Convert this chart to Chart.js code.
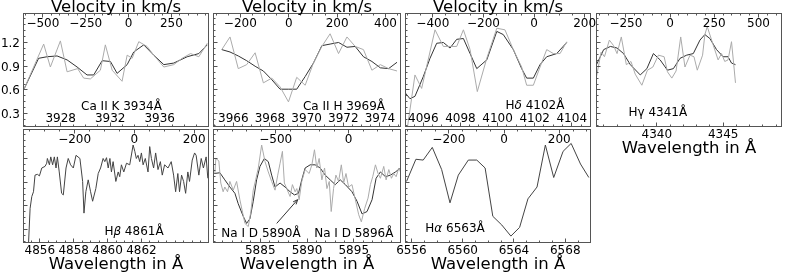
<!DOCTYPE html>
<html>
<head>
<meta charset="utf-8">
<script src="https://cdn.jsdelivr.net/npm/chart.js@4.4.1/dist/chart.umd.min.js"></script>
<style>
  html, body { margin: 0; padding: 0; background: #fff; }
  #wrap { position: relative; width: 789px; height: 276px; overflow: hidden; }
  #wrap canvas { position: absolute; left: 0; top: 0; }
</style>
</head>
<body>
<div id="wrap"></div>
<script>
// ---- spectra (wavelength in Å, normalised flux) ----
const caKRawWave = [3925.01,3926.63,3927.17,3927.98,3928.52,3929.37,3929.86,3930.40,3931.21,3931.61,3932.16,3932.96,3933.37,3933.77,3934.31,3934.98,3935.52,3936.33,3937.13,3937.81,3938.49,3939.16,3939.84];
const caKRawFlux = [0.60,1.18,0.89,1.22,0.83,0.87,0.75,0.74,0.85,1.17,0.85,0.71,1.04,1.00,1.21,1.15,1.04,0.89,0.92,1.00,1.06,1.02,1.19];
const caKSmWave = [3925.01,3926.22,3926.90,3927.71,3928.52,3929.33,3930.13,3930.67,3931.35,3932.02,3932.56,3933.37,3933.90,3934.71,3935.52,3936.33,3937.13,3938.22,3939.16,3939.84];
const caKSmFlux = [0.60,1.00,1.02,1.03,0.98,0.89,0.79,0.79,0.97,0.96,0.81,0.92,1.08,1.17,1.04,0.92,0.94,1.02,1.06,1.17];

const caHWave = [3965.37,3965.82,3966.27,3966.73,3967.19,3967.64,3968.10,3968.55,3969.01,3969.46,3969.92,3970.37,3970.83,3971.28,3971.74,3972.20,3972.65,3973.10,3973.56,3974.02,3974.47,3974.93];
const caHRawFlux = [1.11,1.27,0.87,0.92,1.07,0.69,0.75,0.64,0.45,0.76,0.66,0.94,1.15,1.31,1.06,1.27,1.15,1.11,0.85,0.92,0.87,0.84];
const caHSmFlux = [1.11,1.08,1.03,0.97,0.90,0.84,0.73,0.61,0.61,0.61,0.77,0.94,1.16,1.18,1.20,1.14,1.15,1.02,0.96,0.88,0.87,0.95];

const hdRawWave = [4095.14,4095.55,4095.91,4096.63,4097.08,4097.44,4097.80,4098.16,4098.52,4098.91,4099.42,4099.96,4100.40,4100.85,4101.30,4101.57,4101.93,4102.29,4102.65,4103.01,4103.37,4103.73];
const hdRawFlux = [0.12,0.79,0.62,1.36,1.15,1.15,1.15,1.36,1.11,0.58,1.00,1.38,1.36,1.11,0.89,0.66,0.66,0.89,1.11,1.06,1.06,1.21];
const hdSmWave = [4095.04,4095.28,4095.55,4096.00,4096.36,4096.72,4097.08,4097.44,4097.80,4098.16,4098.52,4098.88,4099.42,4099.96,4100.31,4100.85,4101.30,4101.57,4101.93,4102.29,4102.65,4103.19,4103.73];
const hdSmFlux = [0.56,0.49,0.52,0.77,1.00,1.19,1.20,1.13,1.24,1.25,1.06,0.87,0.98,1.34,1.30,1.11,0.87,0.75,0.75,0.92,1.02,1.06,1.20];

const hgRawWave = [4335.45,4335.80,4336.05,4336.42,4336.74,4337.00,4337.32,4337.70,4338.05,4338.37,4338.87,4339.29,4339.70,4340.12,4340.55,4340.80,4341.13,4341.45,4341.80,4342.12,4342.50,4342.80,4343.05,4343.45,4343.62,4343.80,4344.13,4344.62,4344.88,4345.12,4345.37,4345.63,4345.80,4345.93];
const hgRawFlux = [0.77,1.08,1.02,1.23,1.16,1.06,1.27,0.92,0.96,0.80,0.66,0.85,0.89,1.04,1.02,0.83,0.75,0.84,1.27,0.89,1.04,1.02,0.85,1.04,1.30,1.40,1.23,0.98,1.06,0.96,0.98,1.21,0.92,0.69];
const hgSmWave = [4335.45,4335.99,4336.50,4337.00,4337.49,4338.00,4338.75,4339.25,4339.74,4340.25,4340.80,4341.25,4341.75,4342.25,4342.75,4343.25,4343.62,4344.00,4344.50,4345.00,4345.37,4345.63,4345.93];
const hgSmFlux = [0.92,1.11,1.15,1.13,1.06,0.92,0.79,0.87,1.06,0.98,0.85,0.87,1.00,1.04,1.06,1.23,1.30,1.25,1.11,1.02,1.02,0.94,0.92];

const hbWave = [4855.33,4855.43,4855.53,4855.63,4855.72,4855.86,4855.98,4856.12,4856.31,4856.41,
  4856.45,4856.57,4856.65,4856.76,4856.86,4856.96,4857.04,4857.15,4857.29,4857.39,
  4857.55,4857.68,4857.82,4857.98,4858.14,4858.37,4858.53,4858.61,4858.72,4858.86,
  4859.00,4859.12,4859.31,4859.45,4859.59,4859.74,4859.84,4859.94,4860.04,4860.14,
  4860.23,4860.33,4860.49,4860.63,4860.72,4860.82,4860.96,4861.12,4861.31,4861.51,
  4861.61,4861.70,4861.80,4861.90,4862.00,4862.10,4862.23,4862.39,4862.49,4862.59,
  4862.72,4862.84,4862.98,4863.12,4863.23,4863.37,4863.57,4863.76,4863.90,4864.02,
  4864.15,4864.25,4864.37,4864.49,4864.61,4864.74,4864.84,4865.00,4865.14,4865.23,
  4865.39,4865.53,4865.66,4865.82,4865.92];
const hbFlux = [0.10,0.57,0.72,0.78,0.99,1.00,0.98,1.08,1.10,1.14,
  1.20,1.12,1.22,1.12,1.22,1.08,1.22,1.03,0.76,0.74,
  1.08,1.20,1.12,1.08,1.24,1.20,0.91,0.51,0.78,0.93,
  0.78,0.66,0.82,1.01,1.08,1.20,1.16,1.21,1.08,1.20,
  1.03,1.16,0.91,1.03,0.97,1.12,1.03,1.14,1.12,1.37,
  1.29,1.20,1.24,1.16,1.27,1.12,1.20,1.03,1.35,1.20,
  1.08,1.27,1.06,1.16,0.99,1.12,1.08,1.16,0.99,0.78,
  1.01,0.78,0.99,0.91,0.76,1.03,0.91,1.18,1.27,1.24,
  0.99,1.20,1.08,1.22,0.95];

const naRawWave = [5880.14,5880.25,5880.57,5880.78,5881.03,5881.21,5881.50,5881.75,5882.11,5882.47,
  5882.82,5883.36,5883.72,5884.00,5884.25,5884.51,5884.79,5885.15,5885.51,5885.86,
  5886.22,5886.58,5886.87,5887.12,5887.37,5887.58,5887.83,5888.19,5888.44,5888.73,
  5888.91,5889.16,5889.44,5889.80,5890.23,5890.52,5890.80,5891.05,5891.30,5891.59,
  5891.88,5892.13,5892.38,5892.59,5892.84,5893.09,5893.38,5893.67,5893.92,5894.17,
  5894.45,5894.81,5895.17,5895.53,5895.81,5896.17,5896.53,5896.78,5897.03,5897.32,
  5897.60,5897.85,5898.21,5898.46,5898.75,5899.03,5899.28,5899.53,5899.82,5900.00];
const naRawFlux = [1.01,1.20,1.17,0.89,0.78,0.84,0.78,0.91,0.80,0.91,
  0.68,0.38,0.34,0.53,0.80,0.93,1.08,1.37,1.16,1.03,
  0.91,0.80,0.99,1.14,1.29,0.89,0.82,0.72,0.87,0.78,
  0.82,0.68,0.91,1.06,1.01,1.12,1.31,1.08,1.20,0.93,
  1.08,0.82,0.91,0.53,0.82,0.99,0.91,1.12,0.89,1.01,
  0.84,0.87,0.68,0.49,0.40,0.57,0.70,0.87,0.97,1.12,
  1.01,0.95,1.10,0.93,1.06,0.95,1.01,0.97,1.08,1.03];
const naSmWave = [5880.07,5880.68,5881.21,5881.75,5882.29,5882.64,5883.18,5883.54,5883.90,5884.25,
  5884.61,5884.97,5885.44,5885.86,5886.22,5886.58,5887.12,5887.65,5888.19,5888.66,
  5889.09,5889.44,5889.80,5890.34,5890.87,5891.41,5891.95,5892.48,5893.02,5893.56,
  5894.10,5894.81,5895.35,5895.89,5896.42,5896.96,5897.39,5897.85,5898.39,5898.93,
  5899.46,5900.00];
const naSmFlux = [1.01,1.02,0.93,0.84,0.76,0.63,0.47,0.38,0.44,0.66,
  0.93,1.10,1.20,1.16,0.99,0.84,0.89,0.84,0.78,0.74,
  0.76,0.93,1.08,1.12,1.12,1.08,0.99,0.93,0.87,0.93,
  0.87,0.78,0.66,0.50,0.53,0.68,0.95,1.03,0.97,0.99,
  1.03,1.08];
const naArrow = [[5886.76, 0.38], [5889.0, 0.68]];

const haWave = [6555.62,6556.35,6556.92,6557.63,6558.36,6559.01,6559.66,6560.44,6561.10,6561.75,6562.35,6563.05,6563.76,6564.44,6565.09,6565.80,6566.45,6567.10,6567.83,6568.46,6569.19,6569.84];
const haFlux = [0.91,1.19,1.18,1.34,1.06,0.64,0.99,1.18,1.18,1.08,0.47,0.36,0.22,0.33,0.69,0.84,1.37,0.96,1.29,1.39,1.13,0.96];

// ---- tick labels ----
const fluxTicks = [0.3, 0.6, 0.9, 1.2];
const caKWaveTicks = [3928, 3932, 3936];
const caKVelTicks = [-500, -250, 0, 250];
const caHWaveTicks = [3966, 3968, 3970, 3972, 3974];
const caHVelTicks = [-200, 0, 200, 400];
const hdWaveTicks = [4096, 4098, 4100, 4102, 4104];
const hdVelTicks = [-400, -200, 0, 200];
const hgWaveTicks = [4340, 4345];
const hgVelTicks = [-250, 0, 250, 500];
const hbWaveTicks = [4856, 4858, 4860, 4862];
const hbVelTicks = [-200, 0, 200];
const naWaveTicks = [5885, 5890, 5895];
const naVelTicks = [-500, 0];
const haWaveTicks = [6556, 6560, 6564, 6568];
const haVelTicks = [-200, 0, 200];

const Y_RANGE = [0.139, 1.566];
const ROWS = [[13.5, 126.5], [129.5, 242.5]];
const FONT = '"DejaVu Sans", sans-serif';
const RAW = '#ababab', SMOOTH = '#333333';

const panels = [
  { left: 23.5, right: 208.5, row: 0, wl: [3925.0, 3939.94], vel: [-613, 467],
    wTicks: caKWaveTicks, wMinor: 1, vTicks: caKVelTicks, vMinor: 50,
    yLabels: true, wInside: true, vTitle: true,
    notes: [{ ax: 98, ay: 96.5, parts: [['Ca II K 3934Å']] }],
    series: [[caKRawWave, caKRawFlux, RAW], [caKSmWave, caKSmFlux, SMOOTH]] },
  { left: 213.5, right: 400.5, row: 0, wl: [3964.92, 3975.12], vel: [-311, 462],
    wTicks: caHWaveTicks, wMinor: 0.5, vTicks: caHVelTicks, vMinor: 50,
    wInside: true, vTitle: true,
    notes: [{ ax: 130.5, ay: 96, parts: [['Ca II H 3969Å']] }],
    series: [[caHWave, caHRawFlux, RAW], [caHWave, caHSmFlux, SMOOTH]] },
  { left: 405.5, right: 590.5, row: 0, wl: [4095.04, 4105.01], vel: [-508, 223],
    wTicks: hdWaveTicks, wMinor: 0.5, vTicks: hdVelTicks, vMinor: 50,
    wInside: true, vTitle: true,
    notes: [{ ax: 129.5, ay: 95, parts: [['H'], ['δ', true], [' 4102Å']] }],
    series: [[hdRawWave, hdRawFlux, RAW], [hdSmWave, hdSmFlux, SMOOTH]] },
  { left: 596.5, right: 781.5, row: 0, wl: [4335.45, 4349.4], vel: [-416, 630],
    wTicks: hgWaveTicks, wMinor: 1, vTicks: hgVelTicks, vMinor: 50,
    wTitle: true,
    notes: [{ ax: 61.3, ay: 102, parts: [['Hγ 4341Å']] }],
    series: [[hgRawWave, hgRawFlux, RAW], [hgSmWave, hgSmFlux, SMOOTH]] },
  { left: 23.5, right: 208.5, row: 1, wl: [4855.04, 4865.96], vel: [-371, 248],
    wTicks: hbWaveTicks, wMinor: 0.5, vTicks: hbVelTicks, vMinor: 50,
    wTitle: true,
    notes: [{ ax: 110.5, ay: 105.5, parts: [['H'], ['β', true], [' 4861Å']] }],
    series: [[hbWave, hbFlux, '#444444']] },
  { left: 213.5, right: 400.5, row: 1, wl: [5880, 5900], vel: [-927, 356],
    wTicks: naWaveTicks, wMinor: 1, vTicks: naVelTicks, vMinor: 100,
    wTitle: true, arrow: naArrow,
    notes: [{ ax: 47.5, ay: 107, parts: [['Na I D 5890Å']] },
            { ax: 140.3, ay: 107, parts: [['Na I D 5896Å']] }],
    series: [[naRawWave, naRawFlux, RAW], [naSmWave, naSmFlux, SMOOTH]] },
  { left: 405.5, right: 590.5, row: 1, wl: [6555.54, 6569.97], vel: [-357, 313],
    wTicks: haWaveTicks, wMinor: 1, vTicks: haVelTicks, vMinor: 50,
    wTitle: true,
    notes: [{ ax: 49.5, ay: 102, parts: [['H'], ['α', true], [' 6563Å']] }],
    series: [[haWave, haFlux, '#444444']] }
];

const fmt = v => (v < 0 ? '\u2212' : '') + String(Math.abs(v));
const snap = p => Math.round(p - 0.5) + 0.5;

function steps(min, max, step) {
  const out = [];
  for (let k = Math.ceil(min / step - 1e-9); k * step <= max + 1e-9; k++) out.push(k * step);
  return out;
}

function richText(ctx, parts, cx, y, size) {
  const fonts = parts.map(p => (p[1] ? 'italic ' : '') + size + 'px ' + FONT);
  const widths = parts.map((p, i) => { ctx.font = fonts[i]; return ctx.measureText(p[0]).width; });
  let x = cx - widths.reduce((s, w) => s + w, 0) / 2;
  ctx.textAlign = 'left';
  parts.forEach((p, i) => { ctx.font = fonts[i]; ctx.fillText(p[0], x, y); x += widths[i]; });
}

const panelPlugin = {
  id: 'panel',
  afterDraw(chart, args, opts) {
    const p = panels[opts.idx];
    const ctx = chart.ctx, a = chart.chartArea;
    const sw = chart.scales.x, sv = chart.scales.xv, sy = chart.scales.y;
    ctx.save();
    ctx.strokeStyle = '#555';
    ctx.lineWidth = 1;

    // tick marks, pointing inwards
    ctx.beginPath();
    const inX = (px, len) => { px = snap(px); ctx.moveTo(px, a.top); ctx.lineTo(px, a.top + len); };
    const inXb = (px, len) => { px = snap(px); ctx.moveTo(px, a.bottom); ctx.lineTo(px, a.bottom - len); };
    const inY = (py, len) => { py = snap(py); ctx.moveTo(a.left, py); ctx.lineTo(a.left + len, py); };
    steps(sv.min, sv.max, p.vMinor).forEach(v => inX(sv.getPixelForValue(v), 2));
    p.vTicks.forEach(v => inX(sv.getPixelForValue(v), 4));
    steps(sw.min, sw.max, p.wMinor).forEach(v => inXb(sw.getPixelForValue(v), 2));
    p.wTicks.forEach(v => inXb(sw.getPixelForValue(v), 4));
    steps(sy.min, sy.max, 0.075).forEach(v => inY(sy.getPixelForValue(v), 2));
    fluxTicks.forEach(v => inY(sy.getPixelForValue(v), 4));
    ctx.stroke();
    ctx.strokeRect(a.left, a.top, a.right - a.left, a.bottom - a.top);

    // tick labels
    ctx.fillStyle = '#000';
    ctx.textBaseline = 'alphabetic';
    ctx.font = '12px ' + FONT;
    ctx.textAlign = 'center';
    p.vTicks.forEach(v => ctx.fillText(fmt(v), sv.getPixelForValue(v), a.top + 13.3));
    const wy = p.wInside ? a.bottom - 4.8 : a.bottom + 11.4;
    p.wTicks.forEach(v => ctx.fillText(String(v), sw.getPixelForValue(v), wy));
    if (p.yLabels) {
      ctx.textAlign = 'right';
      fluxTicks.forEach(v => ctx.fillText(v.toFixed(1), a.left - 3.5, sy.getPixelForValue(v) + 4.4));
    }

    // line labels
    p.notes.forEach(n => richText(ctx, n.parts, a.left + n.ax, a.top + n.ay, 12));

    if (p.arrow) {
      const [f, t] = p.arrow;
      const x1 = sw.getPixelForValue(f[0]), y1 = sy.getPixelForValue(f[1]);
      const x2 = sw.getPixelForValue(t[0]), y2 = sy.getPixelForValue(t[1]);
      const ang = Math.atan2(y2 - y1, x2 - x1);
      ctx.strokeStyle = '#333';
      ctx.beginPath();
      ctx.moveTo(x1, y1); ctx.lineTo(x2, y2);
      ctx.moveTo(x2 - 5 * Math.cos(ang - 0.4), y2 - 5 * Math.sin(ang - 0.4));
      ctx.lineTo(x2, y2);
      ctx.lineTo(x2 - 5 * Math.cos(ang + 0.4), y2 - 5 * Math.sin(ang + 0.4));
      ctx.stroke();
    }

    // axis titles
    ctx.fillStyle = '#000';
    ctx.font = '16.5px ' + FONT;
    ctx.textAlign = 'center';
    const cx = (a.left + a.right) / 2;
    if (p.vTitle) ctx.fillText('Velocity in km/s', cx, 11.5);
    if (p.wTitle) ctx.fillText('Wavelength in Å', cx, a.bottom + 26.5);
    ctx.restore();
  }
};

const wrap = document.getElementById('wrap');
panels.forEach((p, idx) => {
  const cv = document.createElement('canvas');
  cv.width = 789;
  cv.height = 276;
  wrap.appendChild(cv);
  const [top, bottom] = ROWS[p.row];
  new Chart(cv, {
    type: 'scatter',
    data: {
      datasets: p.series.map(([wave, flux, color]) => ({
        data: wave.map((w, i) => ({ x: w, y: flux[i] })),
        showLine: true,
        borderColor: color,
        borderWidth: 1,
        pointRadius: 0,
        xAxisID: 'x',
        yAxisID: 'y'
      }))
    },
    options: {
      responsive: false,
      animation: false,
      devicePixelRatio: 1,
      layout: { padding: { left: p.left, right: 789 - p.right, top: top, bottom: 276 - bottom } },
      scales: {
        x: { type: 'linear', display: false, min: p.wl[0], max: p.wl[1] },
        xv: { type: 'linear', axis: 'x', display: false, min: p.vel[0], max: p.vel[1] },
        y: { type: 'linear', display: false, min: Y_RANGE[0], max: Y_RANGE[1] }
      },
      plugins: {
        legend: { display: false },
        tooltip: { enabled: false },
        panel: { idx: idx }
      }
    },
    plugins: [panelPlugin]
  });
});
</script>
</body>
</html>
